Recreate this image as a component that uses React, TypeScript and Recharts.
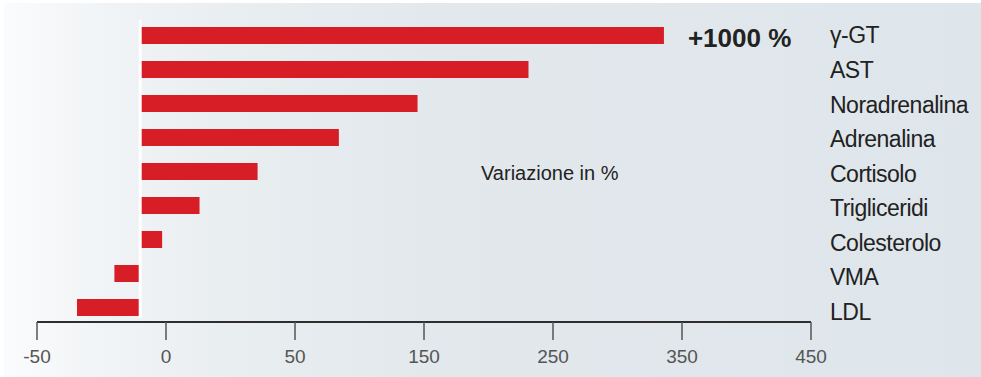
import { BarChart, Bar, XAxis, YAxis, ReferenceLine, LabelList } from "recharts";

// Parametri ematici e loro variazione (unità dell'asse dei valori)
const parametri = [
  "γ-GT",
  "AST",
  "Noradrenalina",
  "Adrenalina",
  "Cortisolo",
  "Trigliceridi",
  "Colesterolo",
  "VMA",
  "LDL",
];
const variazione = [406, 301, 215, 154, 91, 46, 17, -20, -49];

// Tacche dell'asse orizzontale e relative etichette
const tickValues = [-80, 20, 120, 220, 320, 420, 520];
const tickLabels = ["-50", "0", "50", "150", "250", "350", "450"];

const notaGammaGT = "+1000 %";
const titoloAsse = "Variazione in %";

const data = parametri.map((nome, i) => ({ nome, valore: variazione[i] }));

const FONT = "'Liberation Sans', Arial, Helvetica, sans-serif";

function NotaBarra(props: any) {
  const { x, y, width, height, index } = props;
  if (index !== 0) return null;
  return (
    <text
      x={Number(x) + Number(width) + 24}
      y={Number(y) + Number(height) / 2 + 2}
      dominantBaseline="central"
      fontSize={26}
      fontWeight={700}
      fill="#222"
    >
      {notaGammaGT}
    </text>
  );
}

function LineaZero(props: any) {
  const top = Math.min(props.y1, props.y2);
  const bottom = Math.max(props.y1, props.y2);
  return (
    <line
      x1={props.x1}
      x2={props.x2}
      y1={top + 2}
      y2={bottom - 4}
      stroke="#ffffff"
      strokeWidth={3}
    />
  );
}

export default function App() {
  return (
    <div style={{ position: "relative", width: 981, height: 377, background: "#fff", fontFamily: FONT }}>
      <style>{"body{margin:0}"}</style>
      <div
        style={{
          position: "absolute",
          left: 4,
          top: 3,
          right: 0,
          bottom: 0,
          background:
            "linear-gradient(to right, #fafbfc 0%, #f1f4f6 10%, #e8edf0 25%, #e2e8ec 45%, #dfe6eb 100%)",
        }}
      />
      <div style={{ position: "absolute", left: 0, top: 0 }}>
        <BarChart
          width={981}
          height={377}
          data={data}
          layout="vertical"
          margin={{ top: 18, right: 10, bottom: 15, left: 37 }}
        >
          <XAxis
            type="number"
            dataKey="valore"
            domain={[-80, 520]}
            ticks={tickValues}
            interval={0}
            allowDataOverflow
            tickFormatter={(v) => tickLabels[tickValues.indexOf(Number(v))]}
            height={40}
            tickSize={18}
            tickMargin={10}
            axisLine={{ stroke: "#2e2e2e", strokeWidth: 2 }}
            tickLine={{ stroke: "#555", strokeWidth: 1.5 }}
            tick={{ fill: "#555", fontSize: 19 }}
          />
          {/* asse delle barre, nascosto */}
          <YAxis yAxisId="barre" type="category" dataKey="nome" hide padding={{ top: 0, bottom: -2 }} />
          {/* nomi dei parametri a destra, con passo leggermente più ampio */}
          <YAxis
            yAxisId="nomi"
            type="category"
            dataKey="nome"
            orientation="right"
            width={160}
            interval={0}
            padding={{ top: 0, bottom: -7 }}
            axisLine={false}
            tickLine={false}
            tickSize={0}
            tickMargin={19}
            tick={{ fill: "#222", fontSize: 23, letterSpacing: -0.5 }}
          />
          <Bar yAxisId="barre" dataKey="valore" fill="#d71e26" barSize={17} isAnimationActive={false}>
            <LabelList dataKey="valore" content={NotaBarra} />
          </Bar>
          <ReferenceLine yAxisId="barre" x={0} shape={LineaZero} />
          <text x={481} y={180} fontSize={20} fill="#222">
            {titoloAsse}
          </text>
        </BarChart>
      </div>
    </div>
  );
}
